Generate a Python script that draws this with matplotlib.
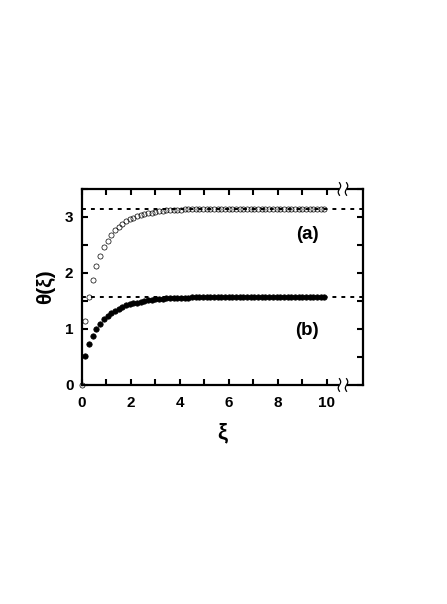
import numpy as np
import matplotlib
matplotlib.use("Agg")
import matplotlib.pyplot as plt

plt.rcParams['font.family'] = ['Liberation Sans', 'DejaVu Sans']
plt.rcParams['font.weight'] = 'bold'

# ---- data ----
xi_a = [0.00, 0.15, 0.30, 0.45, 0.60, 0.75, 0.90, 1.05, 1.20, 1.35,
        1.50, 1.65, 1.80, 1.95, 2.10, 2.25, 2.40, 2.55, 2.70, 2.85,
        3.00, 3.15, 3.30, 3.45, 3.60, 3.75, 3.90, 4.05, 4.20, 4.35,
        4.50, 4.65, 4.80, 4.95, 5.10, 5.25, 5.40, 5.55, 5.70, 5.85,
        6.00, 6.15, 6.30, 6.45, 6.60, 6.75, 6.90, 7.05, 7.20, 7.35,
        7.50, 7.65, 7.80, 7.95, 8.10, 8.25, 8.40, 8.55, 8.70, 8.85,
        9.00, 9.15, 9.30, 9.45, 9.60, 9.75, 9.90]
theta_a = [0.00, 1.15, 1.57, 1.88, 2.12, 2.31, 2.46, 2.58, 2.68, 2.76,
           2.83, 2.88, 2.92, 2.96, 2.99, 3.01, 3.03, 3.05, 3.07, 3.08,
           3.09, 3.10, 3.11, 3.12, 3.12, 3.13, 3.13, 3.13, 3.14, 3.14,
           3.14, 3.14, 3.14, 3.14, 3.14, 3.14, 3.14, 3.14, 3.14, 3.14,
           3.14, 3.14, 3.14, 3.14, 3.14, 3.14, 3.14, 3.14, 3.14, 3.14,
           3.14, 3.14, 3.14, 3.14, 3.14, 3.14, 3.14, 3.14, 3.14, 3.14,
           3.14, 3.14, 3.14, 3.14, 3.14, 3.14, 3.14]

xi_b = [0.15, 0.30, 0.45, 0.60, 0.75, 0.90, 1.05, 1.20, 1.35,
        1.50, 1.65, 1.80, 1.95, 2.10, 2.25, 2.40, 2.55, 2.70, 2.85,
        3.00, 3.15, 3.30, 3.45, 3.60, 3.75, 3.90, 4.05, 4.20, 4.35,
        4.50, 4.65, 4.80, 4.95, 5.10, 5.25, 5.40, 5.55, 5.70, 5.85,
        6.00, 6.15, 6.30, 6.45, 6.60, 6.75, 6.90, 7.05, 7.20, 7.35,
        7.50, 7.65, 7.80, 7.95, 8.10, 8.25, 8.40, 8.55, 8.70, 8.85,
        9.00, 9.15, 9.30, 9.45, 9.60, 9.75, 9.90]
theta_b = [0.52, 0.73, 0.88, 1.00, 1.09, 1.17, 1.23, 1.28, 1.33,
           1.36, 1.39, 1.42, 1.44, 1.46, 1.47, 1.49, 1.50, 1.51, 1.52,
           1.53, 1.535, 1.54, 1.545, 1.55, 1.553, 1.556, 1.558, 1.56, 1.562,
           1.563, 1.564, 1.565, 1.566, 1.567, 1.568, 1.568, 1.568, 1.568, 1.568,
           1.568, 1.568, 1.568, 1.568, 1.568, 1.568, 1.568, 1.568, 1.568, 1.568,
           1.568, 1.568, 1.568, 1.568, 1.568, 1.568, 1.568, 1.568, 1.568, 1.568,
           1.568, 1.568, 1.568, 1.568, 1.568, 1.568, 1.568]

asymptotes = [np.pi, np.pi / 2]
panel_labels = ["(a)", "(b)"]
panel_label_pos = [(9.2, 2.68), (9.2, 0.98)]

x_major = [0, 2, 4, 6, 8, 10]
x_minor = [1, 3, 5, 7, 9]
y_major = [0, 1, 2, 3]
y_minor = [0.5, 1.5, 2.5, 3.5]
xlim = (0, 11.48)
ylim = (0, 3.5)
break_x = (10.46, 10.87)

# ---- figure ----
fig = plt.figure(figsize=(4.47, 6.04), dpi=100)
ax = fig.add_axes([0.183, 0.3626, 0.629, 0.3245])
ax.set_xlim(*xlim)
ax.set_ylim(*ylim)

for yv in asymptotes:
    ax.plot(xlim, [yv, yv], color='black', lw=1.4,
            linestyle=(0, (2.0, 2.6)), zorder=3)

ax.plot(xi_b, theta_b, linestyle='none', marker='o', ms=3.9,
        mfc='black', mec='black', mew=0.5, clip_on=False, zorder=4)
ax.plot(xi_a, theta_a, linestyle='none', marker='o', ms=3.7,
        mfc='none', mec='black', mew=0.5, clip_on=False, zorder=2)

for txt, (px, py) in zip(panel_labels, panel_label_pos):
    ax.text(px, py, txt, fontsize=13.5, fontweight='bold',
            ha='center', va='center')

# spines: left/right normal, top/bottom broken
for s in ['left', 'right']:
    ax.spines[s].set_linewidth(1.6)
for s in ['top', 'bottom']:
    ax.spines[s].set_visible(False)

tr = ax.get_xaxis_transform()
for yy in [0, 1]:
    ax.plot([xlim[0], break_x[0]], [yy, yy], color='black', lw=1.6,
            transform=tr, clip_on=False, solid_capstyle='projecting')
    ax.plot([break_x[1], xlim[1]], [yy, yy], color='black', lw=1.6,
            transform=tr, clip_on=False, solid_capstyle='projecting')
    t = np.linspace(-1, 1, 30)
    for bx in [break_x[0] + 0.06, break_x[1] - 0.06]:
        sx = bx + 0.05 * np.sin(np.pi * t)
        sy = yy + 0.032 * t
        ax.plot(sx, sy, color='black', lw=0.9, transform=tr, clip_on=False)

ax.set_xticks(x_major)
ax.set_xticks(x_minor, minor=True)
ax.set_yticks(y_major)
ax.set_yticks(y_minor, minor=True)
ax.tick_params(which='both', direction='in', top=True, right=True,
               length=4.5, width=1.5)
ax.tick_params(axis='x', which='major', labelsize=11, pad=8)
ax.tick_params(axis='y', which='major', labelsize=11, pad=6)
for lab in ax.get_xticklabels() + ax.get_yticklabels():
    lab.set_fontweight('bold')

ax.set_xlabel('ξ', fontsize=16, fontweight='bold', labelpad=9)
ax.set_ylabel('θ(ξ)', fontsize=15, fontweight='bold', labelpad=7)

fig.savefig('out.png', dpi=100)
